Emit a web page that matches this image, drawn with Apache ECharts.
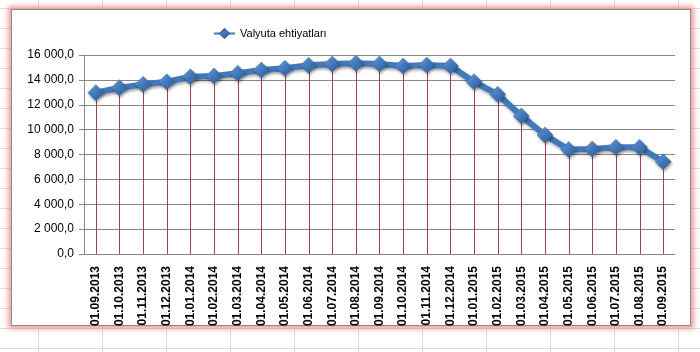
<!DOCTYPE html>
<html>
<head>
    <meta charset="utf-8">
    <title>Valyuta ehtiyatları</title>
    <script src="https://cdn.jsdelivr.net/npm/echarts@6/dist/echarts.min.js"></script>
    <style>
        html, body { margin: 0; padding: 0; }
        body {
            width: 700px; height: 352px; position: relative; overflow: hidden;
            background-color: #fff;
            background-image:
                linear-gradient(to right, #dcdcdc 1px, transparent 1px),
                linear-gradient(to bottom, #dcdcdc 1px, transparent 1px);
            background-size: 64px 100%, 100% 20px;
            background-position: 38px 0, 0 8px;
        }
        #frame {
            position: absolute; left: 11px; top: 9px; width: 678px; height: 315px;
            border: 1px solid #8a8a8a; background: #fff;
            box-shadow: 0 0 5px 3px rgba(232, 130, 130, 0.75);
        }
        #main { position: absolute; left: 0; top: 0; width: 700px; height: 352px; }
    </style>
</head>
<body>
<div id="frame"></div>
<div id="main"></div>
<script type="text/javascript">
    // даты (первое число месяца)
    var dates = ['01.09.2013', '01.10.2013', '01.11.2013', '01.12.2013',
        '01.01.2014', '01.02.2014', '01.03.2014', '01.04.2014', '01.05.2014',
        '01.06.2014', '01.07.2014', '01.08.2014', '01.09.2014', '01.10.2014',
        '01.11.2014', '01.12.2014', '01.01.2015', '01.02.2015', '01.03.2015',
        '01.04.2015', '01.05.2015', '01.06.2015', '01.07.2015', '01.08.2015',
        '01.09.2015'];
    // валютные резервы, млн
    var reserves = [12970, 13370, 13640, 13850, 14250, 14310, 14530, 14790, 14930,
        15170, 15280, 15330, 15280, 15120, 15190, 15120, 13850, 12840, 11100,
        9570, 8400, 8450, 8580, 8580, 7420];
    var seriesName = 'Valyuta ehtiyatları';
    var yTicks = [0, 2000, 4000, 6000, 8000, 10000, 12000, 14000, 16000];

    function fmt(v) {
        var s = String(Math.round(v));
        s = s.replace(/\B(?=(\d{3})+(?!\d))/g, ' ');
        return s + ',0';
    }

    var myChart = echarts.init(document.getElementById('main'));
    var option = {
        animation: false,
        legend: {
            left: 208, top: 23,
            itemWidth: 21, itemHeight: 11, itemGap: 4,
            textStyle: { fontFamily: 'Liberation Sans', fontSize: 11, color: '#000' },
            data: [seriesName]
        },
        grid: { left: 84, right: 25, top: 55, bottom: 98 },
        xAxis: {
            type: 'category',
            data: dates,
            boundaryGap: true,
            axisLine: { lineStyle: { color: '#888', width: 1 } },
            axisTick: { show: false },
            axisLabel: {
                interval: 0, rotate: 90, margin: 12,
                fontFamily: 'Liberation Sans', fontSize: 12, fontWeight: 'bold', color: '#000'
            }
        },
        yAxis: {
            type: 'value',
            min: yTicks[0], max: yTicks[yTicks.length - 1], interval: 2000,
            axisLine: { show: true, lineStyle: { color: '#888' } },
            axisTick: { show: true, length: 5, lineStyle: { color: '#888' } },
            splitLine: { lineStyle: { color: '#888', width: 1 } },
            axisLabel: {
                margin: 10,
                fontFamily: 'Liberation Sans', fontSize: 12, color: '#000',
                formatter: fmt
            }
        },
        series: [{
            // линии проекции от точки до оси
            name: 'drop',
            type: 'custom',
            data: reserves,
            silent: true,
            renderItem: function (params, api) {
                var top = api.coord([api.value(0), api.value(1)]);
                var bottom = api.coord([api.value(0), 0]);
                var x = Math.round(top[0]) + 0.5;
                return {
                    type: 'line',
                    shape: { x1: x, y1: top[1], x2: x, y2: bottom[1] },
                    style: { stroke: '#a3404f', lineWidth: 1 }
                };
            },
            encode: { x: 0, y: 1 },
            z: 1
        }, {
            name: seriesName,
            type: 'line',
            data: reserves,
            symbol: 'diamond',
            symbolSize: [16, 16],
            lineStyle: {
                color: '#4279bb', width: 6,
                shadowColor: 'rgba(0,0,0,0.35)', shadowBlur: 3, shadowOffsetX: 1, shadowOffsetY: 2
            },
            itemStyle: {
                color: new echarts.graphic.LinearGradient(0, 0, 1, 1, [
                    { offset: 0, color: '#7aa6dd' },
                    { offset: 0.5, color: '#4279bb' },
                    { offset: 1, color: '#2a5791' }
                ]),
                borderColor: '#3a6aa5', borderWidth: 0.5,
                shadowColor: 'rgba(0,0,0,0.35)', shadowBlur: 3, shadowOffsetX: 1, shadowOffsetY: 2
            },
            z: 3
        }]
    };
    myChart.setOption(option);
</script>
</body>
</html>
